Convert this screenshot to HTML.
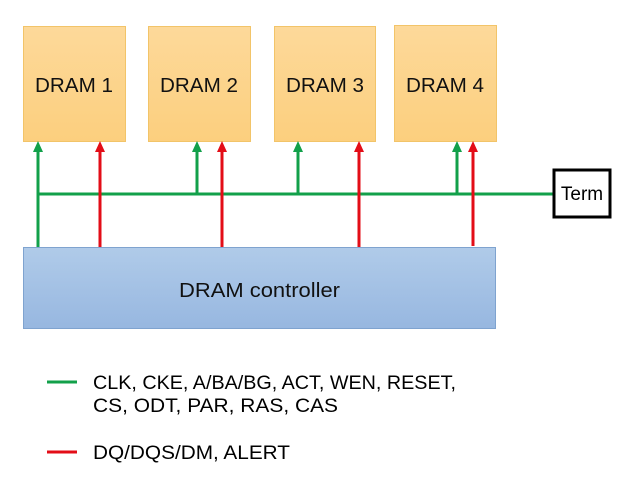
<!DOCTYPE html>
<html><head><meta charset="utf-8"><style>
html,body{margin:0;padding:0;background:#fff;}
svg{display:block;}
text{font-family:"Liberation Sans",sans-serif;}
</style></head><body>
<svg width="631" height="481" viewBox="0 0 631 481" xmlns="http://www.w3.org/2000/svg">
<defs>
<linearGradient id="og" x1="0" y1="0" x2="0" y2="1"><stop offset="0" stop-color="#fdd99a"/><stop offset="1" stop-color="#fccf7e"/></linearGradient>
<linearGradient id="bg" x1="0" y1="0" x2="0" y2="1"><stop offset="0" stop-color="#b0cbe9"/><stop offset="1" stop-color="#97b7e0"/></linearGradient>
</defs>
<g stroke="#f2c469" stroke-width="1" fill="url(#og)">
<rect x="23.5" y="26.5" width="102" height="115"/>
<rect x="148.5" y="26.5" width="102" height="115"/>
<rect x="274.5" y="26.5" width="101" height="115"/>
<rect x="394.5" y="25.5" width="102" height="116"/>
</g>
<g font-size="20" fill="#111">
<text x="35" y="92" textLength="78" lengthAdjust="spacingAndGlyphs">DRAM 1</text>
<text x="160" y="92" textLength="78" lengthAdjust="spacingAndGlyphs">DRAM 2</text>
<text x="286" y="92" textLength="78" lengthAdjust="spacingAndGlyphs">DRAM 3</text>
<text x="406" y="92" textLength="78" lengthAdjust="spacingAndGlyphs">DRAM 4</text>
</g>
<rect x="23.5" y="247.5" width="472" height="81" fill="url(#bg)" stroke="#7fa3cf"/>
<text x="179" y="297" font-size="20" fill="#111" textLength="161" lengthAdjust="spacingAndGlyphs">DRAM controller</text>
<g stroke="#12a04a" stroke-width="3" fill="none">
<line x1="38" y1="247" x2="38" y2="150"/>
<line x1="38" y1="194" x2="554" y2="194"/>
<line x1="197" y1="194" x2="197" y2="150"/>
<line x1="298" y1="194" x2="298" y2="150"/>
<line x1="457" y1="194" x2="457" y2="150"/>
</g>
<g fill="#12a04a">
<polygon points="38,141 33,152 43,152"/>
<polygon points="197,141 192,152 202,152"/>
<polygon points="298,141 293,152 303,152"/>
<polygon points="457,141 452,152 462,152"/>
</g>
<g stroke="#e30d17" stroke-width="3" fill="none">
<line x1="100" y1="247" x2="100" y2="150"/>
<line x1="222" y1="247" x2="222" y2="150"/>
<line x1="359" y1="247" x2="359" y2="150"/>
<line x1="473" y1="246" x2="473" y2="150"/>
</g>
<g fill="#e30d17">
<polygon points="100,141 95,152 105,152"/>
<polygon points="222,141 217,152 227,152"/>
<polygon points="359,141 354,152 364,152"/>
<polygon points="473,141 468,152 478,152"/>
</g>
<rect x="554" y="170" width="56" height="47" fill="#fff" stroke="#000" stroke-width="3"/>
<text x="582" y="200" font-size="19" fill="#000" text-anchor="middle">Term</text>
<line x1="47" y1="382" x2="77" y2="382" stroke="#12a04a" stroke-width="3"/>
<line x1="47" y1="452" x2="77" y2="452" stroke="#e30d17" stroke-width="3"/>
<g font-size="19" fill="#000">
<text x="93" y="389" textLength="363" lengthAdjust="spacingAndGlyphs">CLK, CKE, A/BA/BG, ACT, WEN, RESET,</text>
<text x="93" y="412" textLength="245" lengthAdjust="spacingAndGlyphs">CS, ODT, PAR, RAS, CAS</text>
<text x="93" y="459" textLength="197" lengthAdjust="spacingAndGlyphs">DQ/DQS/DM, ALERT</text>
</g>
</svg>
</body></html>
